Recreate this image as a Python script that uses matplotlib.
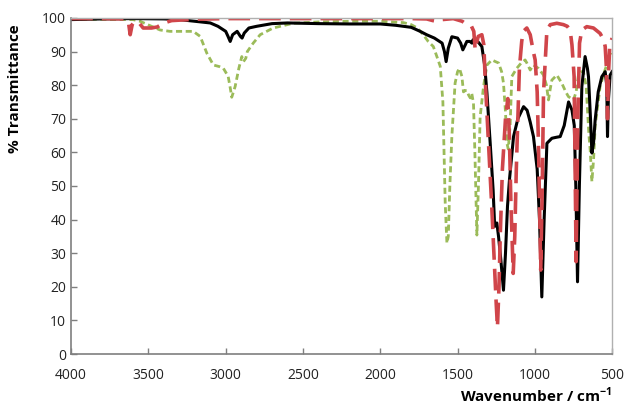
import matplotlib
matplotlib.use("Agg")
import matplotlib.pyplot as plt

plt.rcParams["font.family"] = ["Open Sans", "DejaVu Sans"]
plt.rcParams["mathtext.fontset"] = "custom"
plt.rcParams["mathtext.rm"] = "Open Sans"
plt.rcParams["mathtext.bf"] = "Open Sans:bold"

# black solid spectrum
black_wn = [4000, 3800, 3600, 3400, 3300, 3200, 3100, 3050, 3000, 2985, 2971, 2955,
            2926, 2905, 2894, 2880, 2850, 2800, 2700, 2600, 2400, 2200, 2000, 1900,
            1800, 1742, 1700, 1650, 1600, 1585, 1574, 1560, 1537, 1500, 1480, 1466,
            1450, 1440, 1420, 1407, 1400, 1370, 1343, 1325, 1310, 1289, 1270, 1260,
            1246, 1235, 1220, 1203, 1190, 1177, 1164, 1138, 1110, 1073, 1050, 1030,
            1009, 985, 970, 955, 940, 922, 890, 860, 836, 810, 782, 760, 745, 735,
            724, 712, 696, 675, 660, 653, 640, 631, 620, 610, 590, 567, 545, 535,
            530, 525, 513, 500]
black_t = [99.5, 99.7, 99.8, 99.7, 99.5, 99.0, 98.5, 97.5, 96, 94.5, 93, 95,
           96, 94.5, 94, 95.5, 97, 97.5, 98.3, 98.5, 98.3, 98.2, 98.2, 97.8,
           97.2, 96, 95, 94, 92.5, 90, 87, 91, 94.4, 94, 92.5, 90.5,
           92, 93, 93, 92.5, 93.5, 93, 91.5, 86, 77.7, 62.8, 48.8, 38,
           39, 35, 28, 19, 30, 44, 52, 64.7, 70, 73.6, 72.5, 69,
           64.7, 55, 40, 17, 40, 62.7, 64.2, 64.5, 64.7, 68, 75, 72.6, 68, 50,
           21.5, 50, 79.6, 88.5, 85, 82.5, 70, 59.8, 63, 69.6, 78, 82.5, 84, 80,
           64.7, 75, 83, 84]

# red long-dashed spectrum
red_wn = [4000, 3800, 3650, 3630, 3618, 3605, 3590, 3560, 3534, 3480, 3443, 3400,
          3350, 3200, 3000, 2500, 2000, 1800, 1700, 1660, 1634, 1600, 1528, 1470,
          1440, 1410, 1395, 1386, 1375, 1366, 1343, 1330, 1322, 1300, 1280, 1263,
          1250, 1242, 1232, 1224, 1210, 1190, 1175, 1165, 1155, 1140, 1130, 1120,
          1100, 1085, 1075, 1052, 1030, 1010, 998, 985, 977, 962, 952, 944,
          922, 900, 858, 815, 790, 772, 760, 746, 733, 722, 711, 696,
          664, 621, 578, 555, 545, 537, 530, 522, 515, 500]
red_t = [99.8, 99.8, 99.7, 99, 95, 98, 99, 98.5, 97, 97, 97.3, 98.5,
         99.2, 99.6, 99.8, 99.8, 99.8, 99.8, 99.7, 99.2, 99, 99.5, 99.8, 99,
         98, 97.5, 96, 90.5, 93, 94.5, 95, 92, 82.5, 62.8, 45, 28,
         15, 8, 20, 35, 55, 70, 76, 65, 45, 24, 35, 55,
         85, 93, 96, 97, 95, 90, 87.5, 78, 63, 25, 50, 77.7,
         96.4, 98, 98.4, 98, 97.5, 96.4, 92, 82.6, 27.5, 70, 92.5, 96.4,
         97.4, 97, 95.4, 93.5, 91.5, 85, 70, 85, 92, 94]

# green short-dashed spectrum
green_wn = [4000, 3800, 3600, 3554, 3480, 3424, 3360, 3210, 3165, 3122, 3080, 3040,
            3015, 2984, 2970, 2961, 2950, 2939, 2915, 2896, 2885, 2870, 2860, 2822,
            2777, 2693, 2564, 2400, 2200, 2000, 1850, 1800, 1760, 1722, 1690, 1657,
            1630, 1612, 1595, 1580, 1569, 1560, 1550, 1537, 1516, 1500, 1488, 1472,
            1462, 1450, 1440, 1428, 1418, 1408, 1397, 1388, 1375, 1365, 1354, 1332,
            1310, 1278, 1255, 1235, 1215, 1203, 1190, 1181, 1172, 1160, 1149, 1117,
            1090, 1063, 1052, 1030, 1010, 977, 944, 925, 912, 900, 890, 858,
            826, 800, 783, 750, 733, 718, 700, 686, 668, 650, 642, 631,
            620, 610, 578, 550, 524, 502]
green_t = [99.6, 99.6, 99.5, 99, 97.5, 96.4, 96, 96, 94.5, 89.5, 86, 85.5,
           85, 82.6, 79, 76.4, 78, 79.6, 85, 88.5, 87, 88, 90, 92.5,
           95, 97, 98.4, 98.8, 99, 99, 98.6, 98, 97, 95, 93, 91.5,
           88, 85.6, 75, 45, 33, 35, 50, 64.7, 80.6, 84, 85, 82.6,
           78, 78.4, 78.4, 77, 76.2, 77.5, 74.6, 60, 35.4, 50, 70.6, 79.6,
           86, 87.5, 87, 86.6, 84, 80.6, 72, 62.8, 61, 68, 82.6, 85,
           86.5, 87.5, 86.6, 84.5, 86, 85, 83, 80, 75.6, 79, 81.5, 83,
           80.6, 78, 76.6, 75.6, 78, 83, 84, 84, 79.6, 65, 60.7, 51.3,
           58, 67.7, 79.6, 84, 87.5, 89.5]

x_ticks = [4000, 3500, 3000, 2500, 2000, 1500, 1000, 500]
y_ticks = [0, 10, 20, 30, 40, 50, 60, 70, 80, 90, 100]

fig = plt.figure(figsize=(6.24, 4.07), dpi=100)
ax = fig.add_axes([0.114, 0.13, 0.867, 0.826])

ax.plot(green_wn, green_t, color="#9bbb59", lw=2, dashes=(2.2, 1.3))
ax.plot(black_wn, black_t, color="black", lw=2.2)
ax.plot(red_wn, red_t, color="#d0454a", lw=2.6, dashes=(6, 2.5))

ax.set_xlim(4000, 500)
ax.set_ylim(0, 100)
ax.set_xticks(x_ticks)
ax.set_yticks(y_ticks)
ax.tick_params(direction="in", length=4, width=1, colors="#7f7f7f",
               labelcolor="#222222", labelsize=10)
ax.tick_params(axis="x", pad=10)

for side in ["left", "bottom"]:
    ax.spines[side].set_color("#7f7f7f")
    ax.spines[side].set_linewidth(1.2)
for side in ["top", "right"]:
    ax.spines[side].set_color("#b0b0b0")
    ax.spines[side].set_linewidth(1)

ax.set_ylabel("% Transmittance", fontsize=11, fontweight="bold", loc="top")
ax.yaxis.set_label_coords(-0.09, 0.98)
ax.set_xlabel(r"Wavenumber / cm$^{\mathbf{-1}}$", fontsize=11,
              fontweight="bold", loc="right")
ax.xaxis.set_label_coords(1.0, -0.095)

fig.savefig("out.png", dpi=100)
